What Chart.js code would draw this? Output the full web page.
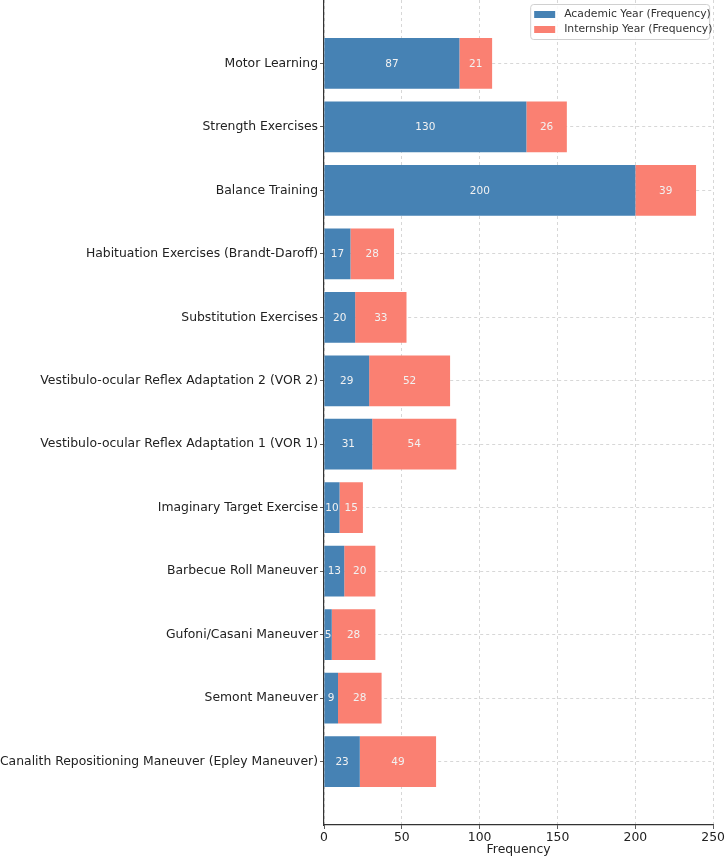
<!DOCTYPE html>
<html>
<head>
<meta charset="utf-8">
<script src="https://cdn.jsdelivr.net/npm/chart.js@4"></script>
<style>
  body { margin: 0; background: #fff; }
  #contenedor { width: 726px; height: 857px; }
</style>
</head>
<body>
<div id="contenedor"><canvas id="grafica" width="726" height="857"></canvas></div>
<script>
// Categorias (de abajo hacia arriba, como en el original)
const categorias = [
    "Canalith Repositioning Maneuver (Epley Maneuver)",
    "Semont Maneuver",
    "Gufoni/Casani Maneuver",
    "Barbecue Roll Maneuver",
    "Imaginary Target Exercise",
    "Vestibulo-ocular Reflex Adaptation 1 (VOR 1)",
    "Vestibulo-ocular Reflex Adaptation 2 (VOR 2)",
    "Substitution Exercises",
    "Habituation Exercises (Brandt-Daroff)",
    "Balance Training",
    "Strength Exercises",
    "Motor Learning"
];

const academico = [23, 9, 5, 13, 10, 31, 29, 20, 17, 200, 130, 87];
const internado = [49, 28, 28, 20, 15, 54, 52, 33, 28, 39, 26, 21];

const ticksX = [0, 50, 100, 150, 200, 250];

const nombresSeries = ["Academic Year (Frequency)", "Internship Year (Frequency)"];
const colores = ["#4682B4", "#FA8072"];

// huecos vacios arriba y abajo para el margen del eje
const etiquetas = [""].concat(categorias).concat([""]);
const rellenar = arr => [null].concat(arr).concat([null]);

const fuente = '"DejaVu Sans", sans-serif';
const colorRejilla = 'rgba(170,170,170,0.6)';

// Numeros dentro de cada barra
const etiquetasBarras = {
    id: 'etiquetasBarras',
    afterDraw(chart) {
        const ctx = chart.ctx;
        ctx.save();
        ctx.font = '10.5px ' + fuente;
        ctx.fillStyle = '#f2f2f2';
        ctx.textAlign = 'center';
        ctx.textBaseline = 'middle';
        chart.data.datasets.forEach((ds, i) => {
            const meta = chart.getDatasetMeta(i);
            meta.data.forEach((barra, j) => {
                const v = ds.data[j];
                if (v == null) return;
                const p = barra.getProps(['x', 'y', 'base'], true);
                ctx.fillText(String(v), (p.x + p.base) / 2, p.y + 0.5);
            });
        });
        ctx.restore();
    }
};

// Leyenda dentro del area del grafico
const leyenda = {
    id: 'leyenda',
    afterDraw(chart) {
        const ctx = chart.ctx;
        const area = chart.chartArea;
        const x0 = area.right - 183, y0 = area.top + 4;
        ctx.save();
        ctx.fillStyle = 'rgba(255,255,255,0.85)';
        ctx.strokeStyle = '#d0d0d0';
        ctx.lineWidth = 1;
        ctx.beginPath();
        ctx.roundRect(x0 + 0.5, y0 + 0.5, 179, 35, 3);
        ctx.fill();
        ctx.stroke();
        ctx.font = '10.8px ' + fuente;
        ctx.textBaseline = 'middle';
        nombresSeries.forEach((n, i) => {
            const yy = y0 + 10.5 + i * 15;
            ctx.fillStyle = colores[i];
            ctx.fillRect(x0 + 4, yy - 3.5, 21, 7);
            ctx.fillStyle = '#333';
            ctx.fillText(n, x0 + 34, yy);
        });
        ctx.restore();
    }
};

new Chart(document.getElementById('grafica'), {
    type: 'bar',
    data: {
        labels: etiquetas,
        datasets: nombresSeries.map((n, i) => ({
            label: n,
            data: rellenar(i === 0 ? academico : internado),
            backgroundColor: colores[i],
            borderWidth: 0,
            categoryPercentage: 1,
            barPercentage: 0.8
        }))
    },
    options: {
        indexAxis: 'y',
        responsive: false,
        animation: false,
        layout: { padding: { top: 0, right: 12, left: 0, bottom: 0 } },
        plugins: {
            legend: { display: false },
            tooltip: { enabled: false }
        },
        scales: {
            x: {
                stacked: true,
                min: 0,
                max: 250,
                z: 1,
                afterBuildTicks: s => { s.ticks = ticksX.map(v => ({ value: v })); },
                afterFit: s => { s.height = 32; },
                border: { color: '#333', width: 1.2, dash: [3, 3] },
                grid: {
                    color: colorRejilla,
                    lineWidth: 0.8,
                    tickColor: '#333',
                    tickLength: 4,
                    tickBorderDash: []
                },
                ticks: { color: '#222', font: { family: fuente, size: 12.4 }, padding: 1 },
                title: {
                    display: true,
                    text: 'Frequency',
                    color: '#222',
                    font: { family: fuente, size: 12.4 },
                    padding: { top: 0, bottom: 0 }
                }
            },
            y: {
                stacked: true,
                reverse: true,
                offset: false,
                z: 1,
                afterFit: s => { s.width = 324; s.paddingTop = 0; s.paddingBottom = 0; },
                border: { color: '#333', width: 1.2, dash: [3, 3] },
                grid: {
                    offset: false,
                    color: c => (etiquetas[c.index] === "" ? 'rgba(0,0,0,0)' : colorRejilla),
                    lineWidth: 0.8,
                    tickColor: c => (etiquetas[c.index] === "" ? 'rgba(0,0,0,0)' : '#333'),
                    tickLength: 4,
                    tickBorderDash: []
                },
                ticks: {
                    autoSkip: false,
                    color: '#222',
                    font: { family: fuente, size: 12.4 },
                    padding: 2
                }
            }
        }
    },
    plugins: [etiquetasBarras, leyenda]
});
</script>
</body>
</html>
